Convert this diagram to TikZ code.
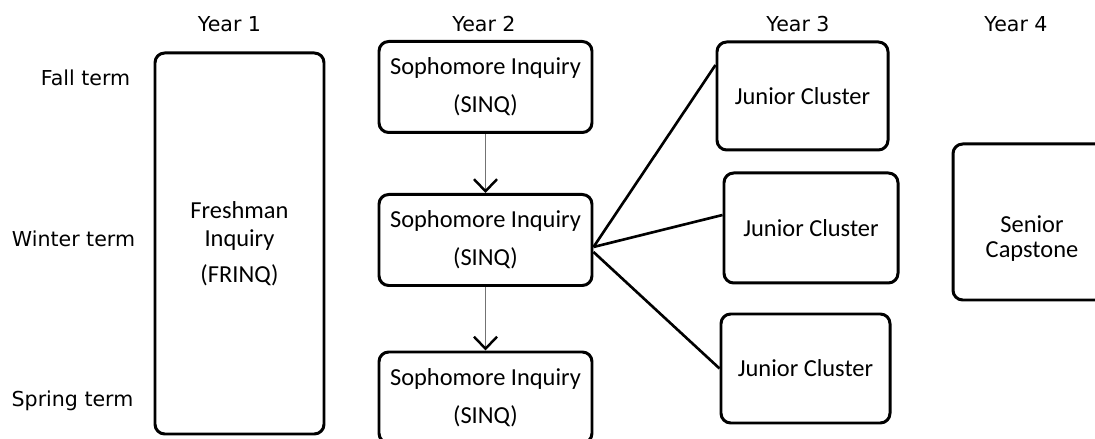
\documentclass[tikz,border=0pt]{standalone}
\usepackage{fontspec}
\setmainfont{Carlito}
\newfontfamily\labfont{DejaVu Sans}
\usetikzlibrary{arrows.meta}

\begin{document}
\begin{tikzpicture}[
  x=1cm, y=1cm,
  >={Straight Barb[length=2.4mm, width=4.6mm, line width=1.4pt, color=black]},
  font=\fontsize{13.9}{16}\selectfont,
  course/.style={draw=black, line width=1.7pt, rounded corners=5.5pt,
    inner sep=0pt, align=center},
  sinq/.style={course, minimum width=4.26cm, minimum height=1.82cm,
    font=\fontsize{13.9}{21.5}\selectfont},
  cluster/.style={course, minimum height=2.18cm},
  yearlab/.style={font=\labfont\fontsize{11.7}{14}\selectfont, anchor=base},
  seq/.style={->, line width=0.8pt, black!55},
  branch/.style={line width=1.5pt, black}
]
  \useasboundingbox (0,0) rectangle (21.90,8.78);

  %% ============================================ column and row headings
  \node[yearlab] (y1) at (4.59,8.14) {Year 1};
  \node[yearlab] (y2) at (9.68,8.14) {Year 2};
  \node[yearlab] (y3) at (15.96,8.14) {Year 3};
  \node[yearlab] (y4) at (20.32,8.14) {Year 4};

  \node[yearlab] (fall) at (1.71,7.06) {Fall term};
  \node[yearlab] (winter) at (1.47,3.84) {Winter term};
  \node[yearlab] (spring) at (1.45,0.64) {Spring term};

  %% ------------------------------------------------------------ year 1
  \node[course, minimum width=3.38cm, minimum height=7.62cm] (frinq)
    at (4.79,3.91) {Freshman\\Inquiry\\[4.4pt](FRINQ)};

  %% ------------------------------------------------------------ year 2
  \node[sinq] (sinq1) at (9.71,7.04) {Sophomore Inquiry\\(SINQ)};
  \node[sinq] (sinq2) at (9.71,3.98) {Sophomore Inquiry\\(SINQ)};
  \node[sinq] (sinq3) at (9.71,0.83) {Sophomore Inquiry\\(SINQ)};
  \draw[seq] (sinq1) -- (sinq2);
  \draw[seq] (sinq2) -- (sinq3);

  %% ------------------------------------------------------------ year 3
  \node[cluster, minimum width=3.42cm, minimum height=2.16cm] (jc1)
    at (16.05,6.86) {Junior Cluster};
  \node[cluster, minimum width=3.48cm, minimum height=2.20cm] (jc2)
    at (16.22,4.22) {Junior Cluster};
  \node[cluster, minimum width=3.38cm] (jc3)
    at (16.11,1.41) {Junior Cluster};

  % the winter SINQ fans out to the three clusters
  \draw[branch] ([yshift=-1.4mm]sinq2.east) -- ([yshift=6.2mm]jc1.west);
  \draw[branch] ([yshift=-1.4mm]sinq2.east) -- ([yshift=2.6mm]jc2.west);
  \draw[branch] ([yshift=-2.4mm]sinq2.east) -- (jc3.west);

  %% ------------------------------------------------------------ year 4
  \node[course, minimum width=3.16cm, minimum height=3.12cm] (cap)
    at (20.64,4.34) {};
  \node[align=center, font=\fontsize{13.9}{14.7}\selectfont] (captxt)
    at (20.64,4.01) {Senior\\Capstone};

\end{tikzpicture}
\end{document}
